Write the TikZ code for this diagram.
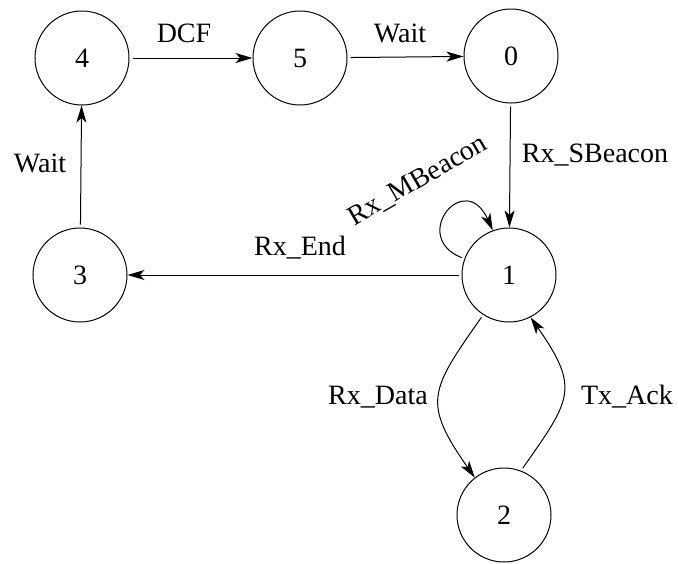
\documentclass[tikz,border=0pt]{standalone}
\usepackage{fontspec}
\setmainfont{Liberation Serif}
\usetikzlibrary{arrows.meta}
\begin{document}
\begin{tikzpicture}[x=1pt,y=-1pt,
  state/.style={draw,circle,line width=1pt,minimum size=94pt,inner sep=0pt},
  edge/.style={line width=1pt,shorten <=3pt,-{Stealth[length=17pt,width=10pt,inset=4.5pt]}},
  lbl/.style={inner sep=0pt}]
  \fontsize{28}{33}\selectfont
  \useasboundingbox (0,0) rectangle (678,563);
  % states
  \node[state] (n4) at (82,58) {4};
  \node[state] (n5) at (300,58) {5};
  \node[state] (n0) at (511,56) {0};
  \node[state] (n1) at (509,275) {1};
  \node[state] (n3) at (80,275) {3};
  \node[state] (n2) at (504,515) {2};
  % transitions
  \draw[edge] (n4) -- (n5);
  \draw[edge] (n5) -- (n0);
  \draw[edge] (n0) -- (n1);
  \draw[edge] (n1) -- (n3);
  \draw[edge] (n3) -- (n4);
  % self-loop on state 1 (y axis points down here)
  \draw[edge] (n1.160) .. controls +(-55,-22) and +(-28,-62) .. (n1.110);
  \draw[edge] (n1.237) to[out=235,in=125,looseness=1.45] (n2.128);
  \draw[edge] (n2.69) to[out=55,in=-55,looseness=1.45] (n1.297);
  % labels
  \node[lbl] (tdcf) at (184,33) {DCF};
  \node[lbl] (twait1) at (400,33) {Wait};
  \node[lbl] (twait2) at (40,163) {Wait};
  \node[lbl] (tsb) at (595,155) {Rx\_SBeacon};
  \node[lbl] (tend) at (300,248) {Rx\_End};
  \node[lbl,rotate=30] (tmb) at (418,181) {Rx\_MBeacon};
  \node[lbl] (tdata) at (378,397) {Rx\_Data};
  \node[lbl] (tack) at (627,397) {Tx\_Ack};
\end{tikzpicture}
\end{document}
